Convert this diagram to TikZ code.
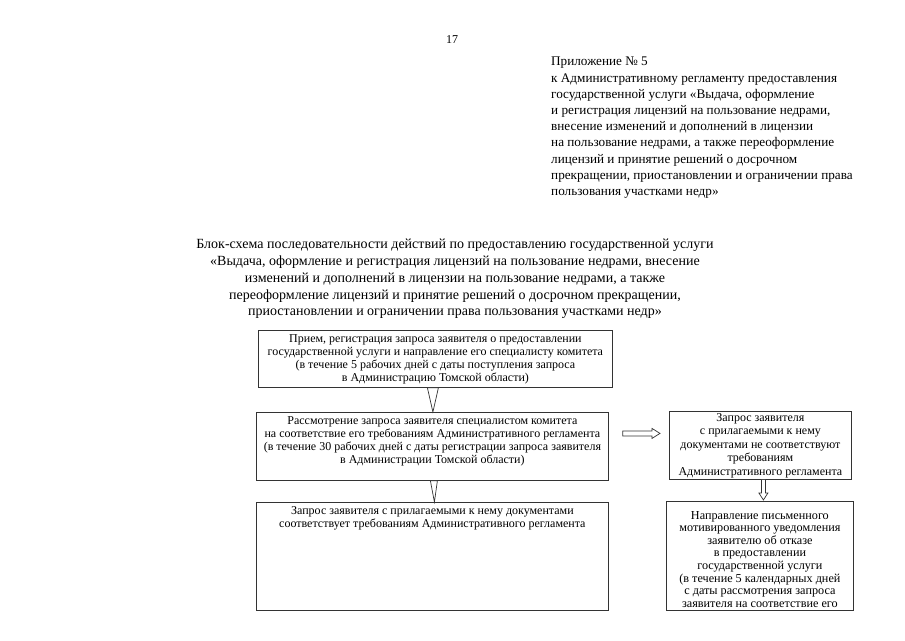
\documentclass[tikz,border=0pt]{standalone}
\usepackage{fontspec}
\setmainfont{Liberation Serif}
\usetikzlibrary{calc}
\begin{document}
\begin{tikzpicture}[x=1pt,y=-1pt,
  frame/.style={draw=black!80, line width=0.8pt, anchor=north west, inner sep=0pt},
  boxtext/.style={anchor=north, inner sep=0pt, align=center, font=\fontsize{12}{13}\selectfont},
  outline/.style={draw=black!80, line width=0.7pt, fill=white, line join=miter}
]
\useasboundingbox (0,0) rectangle (905,640);

\node[anchor=center, font=\fontsize{12}{14}\selectfont] (pg) at (452,40) {17};

\node[anchor=north west, inner sep=0pt, align=left, font=\fontsize{13.2}{16.2}\selectfont] (app) at (551,57)
{Приложение № 5\\
к Административному регламенту предоставления\\
государственной услуги «Выдача, оформление\\
и регистрация лицензий на пользование недрами,\\
внесение изменений и дополнений в лицензии\\
на пользование недрами, а также переоформление\\
лицензий и принятие решений о досрочном\\
прекращении, приостановлении и ограничении права\\
пользования участками недр»};

\node[anchor=north, inner sep=0pt, align=center, font=\fontsize{14}{16.8}\selectfont] (title) at (455,239)
{Блок-схема последовательности действий по предоставлению государственной услуги\\
«Выдача, оформление и регистрация лицензий на пользование недрами, внесение\\
изменений и дополнений в лицензии на пользование недрами, а также\\
переоформление лицензий и принятие решений о досрочном прекращении,\\
приостановлении и ограничении права пользования участками недр»};

% left column
\node[frame, minimum width=354pt, minimum height=57pt] (b1) at (258,330) {};
\node[boxtext] (b1t) at ($(b1.north)+(0,4.5)$)
{Прием, регистрация запроса заявителя о предоставлении\\
государственной услуги и направление его специалисту комитета\\
(в течение 5 рабочих дней с даты поступления запроса\\
в Администрацию Томской области)};

\node[frame, minimum width=352pt, minimum height=68pt] (b2) at (256,412) {};
\node[boxtext] (b2t) at ($(b2.north)+(0,4)$)
{Рассмотрение запроса заявителя специалистом комитета\\
на соответствие его требованиям Административного регламента\\
(в течение 30 рабочих дней с даты регистрации запроса заявителя\\
в Администрации Томской области)};

\node[frame, minimum width=352pt, minimum height=108pt] (b3) at (256,502) {};
\node[boxtext] (b3t) at ($(b3.north)+(0,4.5)$)
{Запрос заявителя с прилагаемыми к нему документами\\
соответствует требованиям Административного регламента};

% right column
\node[frame, minimum width=182pt, minimum height=68pt] (r1) at (669,411) {};
\node[boxtext, font=\fontsize{12}{13.5}\selectfont] (r1t) at ($(r1.north)+(0,2)$)
{Запрос заявителя\\
с прилагаемыми к нему\\
документами не соответствуют\\
требованиям\\
Административного регламента};

\node[frame, minimum width=187pt, minimum height=109pt] (r2) at (666,501) {};
\node[boxtext, font=\fontsize{12.2}{12.6}\selectfont] (r2t) at ($(r2.north)+(0,10)$)
{Направление письменного\\
мотивированного уведомления\\
заявителю об отказе\\
в предоставлении\\
государственной услуги\\
(в течение 5 календарных дней\\
с даты рассмотрения запроса\\
заявителя на соответствие его};

% connectors
\coordinate (t1) at ($(b1.south)+(-2.5,0)$);
\draw[outline] ($(t1)+(-5.5,0)$) -- ($(t1)+(5.5,0)$) -- (t1 |- b2.north) -- cycle;

\coordinate (t2) at ($(b2.south)+(1.5,0)$);
\draw[outline] ($(t2)+(-3.5,0)$) -- ($(t2)+(3.5,0)$) -- ($(t2 |- b3.north)+(0.5,0)$) -- cycle;

\coordinate (ra) at ($(b2.east)+(14,-13)$);
\coordinate (rb) at ($(r1.west)+(-9,-12)$);
\draw[outline] ($(ra)+(0,-2.5)$) -- ($(rb)+(-8,-2.5)$) -- ($(rb)+(-8,-5)$) -- (rb)
  -- ($(rb)+(-8,5)$) -- ($(rb)+(-8,2.5)$) -- ($(ra)+(0,2.5)$) -- cycle;

\coordinate (da) at ($(r1.south)+(3,0)$);
\coordinate (db) at ($(da |- r2.north)+(0,-1)$);
\draw[outline] ($(da)+(-2,0)$) -- ($(db)+(-2,-7)$) -- ($(db)+(-4.5,-7)$) -- (db)
  -- ($(db)+(4.5,-7)$) -- ($(db)+(2,-7)$) -- ($(da)+(2,0)$);
\end{tikzpicture}
\end{document}
